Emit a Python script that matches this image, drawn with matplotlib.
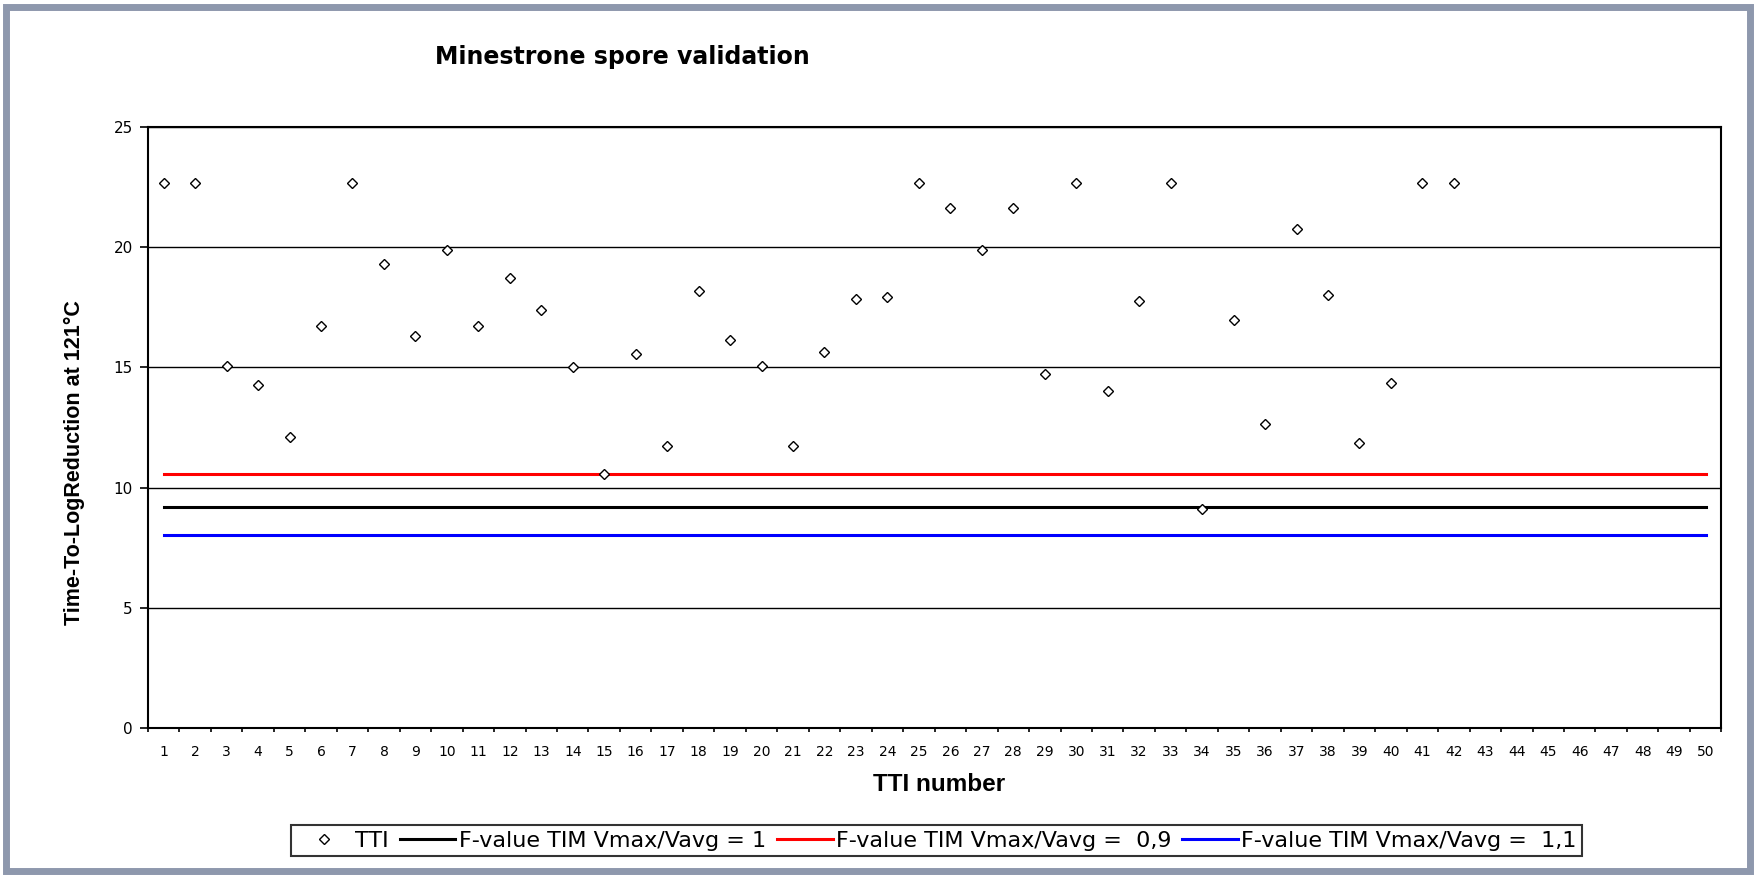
import matplotlib
matplotlib.use("Agg")
import matplotlib.pyplot as plt
from matplotlib.patches import Rectangle

tti_numbers = list(range(1, 51))
tti_values = [22.66, 22.66, 15.05, 14.25, 12.1, 16.7, 22.66, 19.3, 16.3, 19.86,
              16.7, 18.7, 17.4, 15.0, 10.56, 15.56, 11.73, 18.18, 16.12, 15.05,
              11.73, 15.65, 17.85, 17.94, 22.66, 21.64, 19.86, 21.64, 14.72, 22.66,
              14.02, 17.76, 22.66, 9.11, 16.96, 12.66, 20.75, 17.99, 11.87, 14.35,
              22.66, 22.66]
f_value_1 = 9.2
f_value_09 = 10.56
f_value_11 = 8.04
y_ticks = [0, 5, 10, 15, 20, 25]

wide = 'DejaVu Sans'
label_font = 'Liberation Sans'

fig = plt.figure(figsize=(17.57, 8.75), dpi=100)
ax = fig.add_axes([0.0842, 0.168, 0.8955, 0.687])

xs = tti_numbers[:len(tti_values)]
ax.plot(xs, tti_values, linestyle='none', marker='D', markersize=5.5,
        markerfacecolor='white', markeredgecolor='black', markeredgewidth=1.0,
        label='TTI', zorder=4)
ax.plot([tti_numbers[0], tti_numbers[-1]], [f_value_1] * 2, color='black', lw=2.2,
        label='F-value TIM Vmax/Vavg = 1', zorder=3)
ax.plot([tti_numbers[0], tti_numbers[-1]], [f_value_09] * 2, color='#ff0000', lw=2.2,
        label='F-value TIM Vmax/Vavg =  0,9', zorder=3)
ax.plot([tti_numbers[0], tti_numbers[-1]], [f_value_11] * 2, color='#0000ff', lw=2.2,
        label='F-value TIM Vmax/Vavg =  1,1', zorder=3)

ax.set_xlim(0.5, 50.5)
ax.set_ylim(0, 25)
ax.set_yticks(y_ticks)
ax.set_yticklabels([str(v) for v in y_ticks], fontsize=11, family=wide)
ax.set_xticks(tti_numbers)
ax.set_xticklabels([str(v) for v in tti_numbers], fontsize=10, family=wide)
ax.tick_params(axis='x', which='major', length=0, pad=12)
ax.set_xticks([i + 0.5 for i in range(0, 51)], minor=True)
ax.tick_params(axis='x', which='minor', length=3, direction='out', width=1.2)
ax.tick_params(axis='y', which='major', length=6, direction='out', width=1.2, pad=5)
ax.yaxis.grid(True, color='black', lw=1)
ax.set_axisbelow(True)
for s in ax.spines.values():
    s.set_linewidth(1.5)
    s.set_color('black')

ax.set_xlabel('TTI number', fontsize=17.5, fontweight='bold', family=label_font)
ax.xaxis.set_label_coords(0.503, -0.075)
ax.set_ylabel('Time-To-LogReduction at 121°C', fontsize=15.5, fontweight='bold', family=label_font)
ax.yaxis.set_label_coords(-0.040, 0.441)

fig.text(0.354, 0.9265, 'Minestrone spore validation', fontsize=17, fontweight='bold',
         family=wide, ha='center', va='baseline')

leg = fig.legend(loc='center', bbox_to_anchor=(0.533, 0.0394), ncol=4, frameon=True,
                 fancybox=False, edgecolor='black', prop={'family': wide, 'size': 16},
                 handlelength=2.5, handletextpad=0.15, columnspacing=0.5, borderpad=0.25,
                 borderaxespad=0)
leg.get_frame().set_linewidth(1.5)

fig.patches.append(Rectangle((0.0035, 0.005), 0.9925, 0.987, transform=fig.transFigure,
                             fill=False, edgecolor='#8e98ad', lw=5, zorder=0))

fig.savefig('out.png', dpi=100, facecolor='white')
